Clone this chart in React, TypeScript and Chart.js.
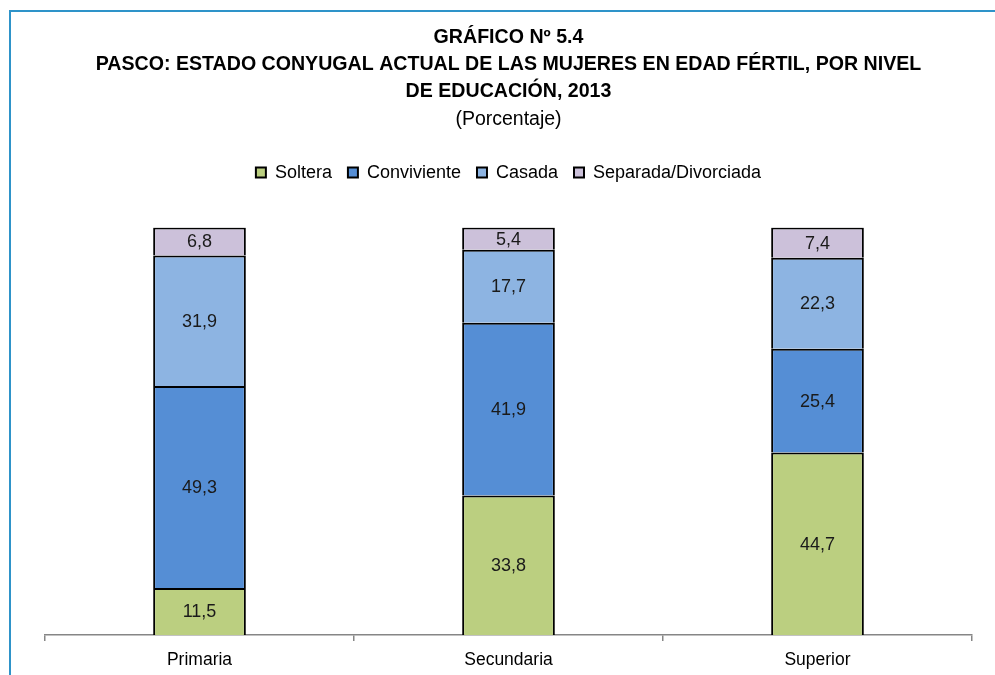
import React, { useEffect, useRef } from "react";
import { Chart, registerables } from "chart.js";

Chart.register(...registerables);

const categories = ["Primaria", "Secundaria", "Superior"];
const seriesNames = ["Soltera", "Conviviente", "Casada", "Separada/Divorciada"];
const soltera = [11.5, 33.8, 44.7];
const conviviente = [49.3, 41.9, 25.4];
const casada = [31.9, 17.7, 22.3];
const separada = [6.8, 5.4, 7.4];
const seriesColors = ["#BBCF80", "#558ED5", "#8DB4E2", "#CCC1DA"];
const titleLines = [
  "GRÁFICO Nº 5.4",
  "PASCO: ESTADO CONYUGAL ACTUAL DE LAS MUJERES EN EDAD FÉRTIL, POR NIVEL",
  "DE EDUCACIÓN, 2013",
];
const subtitleText = "(Porcentaje)";

const FONT = "'Liberation Sans Narrow', 'Arial Narrow', 'Liberation Sans', sans-serif";

export default function App() {
  const ref = useRef<HTMLCanvasElement | null>(null);

  useEffect(() => {
    if (!ref.current) return;
    const raw = [soltera, conviviente, casada, separada];
    const totals = categories.map((_, i) => raw.reduce((s, arr) => s + arr[i], 0));

    const labelPlugin = {
      id: "segLabels",
      afterDatasetsDraw(chart: any) {
        const ctx = chart.ctx;
        ctx.save();
        ctx.font = `18px ${FONT}`;
        ctx.fillStyle = "#1a1a1a";
        ctx.textAlign = "center";
        ctx.textBaseline = "middle";
        chart.data.datasets.forEach((ds: any, di: number) => {
          const meta = chart.getDatasetMeta(di);
          meta.data.forEach((bar: any, i: number) => {
            const v = ds.rawValues[i];
            const y = (bar.y + bar.base) / 2;
            ctx.fillText(v.toFixed(1).replace(".", ","), bar.x, y + 1);
          });
        });
        ctx.restore();
      },
    };

    const legendGap = {
      id: "legendGap",
      beforeInit(chart: any) {
        const orig = chart.legend.fit;
        chart.legend.fit = function () {
          orig.call(this);
          this.height += 36;
        };
      },
    };

    const chart = new Chart(ref.current, {
      type: "bar",
      data: {
        labels: categories,
        datasets: raw.map((arr, di) => ({
          label: seriesNames[di],
          data: arr.map((v, i) => (v / totals[i]) * 100),
          rawValues: arr,
          backgroundColor: seriesColors[di],
          borderColor: "#000000",
          borderWidth: 2,
          borderSkipped: "bottom",
          categoryPercentage: 1,
          barPercentage: 0.3,
        })) as any,
      },
      options: {
        animation: false,
        responsive: false,
        maintainAspectRatio: false,
        layout: { padding: { top: 24, left: 45, right: 23, bottom: 6 } },
        plugins: {
          title: {
            display: true,
            text: titleLines,
            color: "#000000",
            font: { family: FONT, size: 19.6, weight: "bold", lineHeight: 1.38 },
            padding: { top: 0, bottom: 3 },
          },
          subtitle: {
            display: true,
            text: subtitleText,
            color: "#000000",
            font: { family: FONT, size: 19.5, weight: "normal", lineHeight: 1.2 },
            padding: { top: 0, bottom: 16 },
          },
          legend: {
            display: true,
            position: "top",
            labels: {
              color: "#000000",
              font: { family: FONT, size: 18 },
              boxWidth: 10,
              boxHeight: 10,
              padding: 16,
            },
          },
          tooltip: { enabled: false },
        },
        scales: {
          x: {
            stacked: true,
            offset: true,
            grid: {
              display: true,
              offset: true,
              drawOnChartArea: false,
              drawTicks: true,
              tickLength: 6,
              color: "#868686",
              lineWidth: 1.5,
            },
            border: { display: true, color: "#868686", width: 1.5 },
            ticks: {
              color: "#000000",
              font: { family: FONT, size: 17.5 },
              padding: 9,
            },
          },
          y: {
            stacked: true,
            display: false,
            min: 0,
            max: 100,
          },
        },
      },
      plugins: [labelPlugin, legendGap],
    });
    return () => chart.destroy();
  }, []);

  return (
    <div style={{ position: "fixed", left: 0, top: 0, width: 995, height: 675, overflow: "hidden", background: "#ffffff" }}>
      <canvas ref={ref} width={995} height={686} style={{ position: "absolute", left: 0, top: 0, width: 995, height: 686 }} />
      <div
        style={{
          position: "absolute",
          left: 9,
          top: 10,
          width: 1100,
          height: 800,
          border: "2px solid #2E93C9",
          pointerEvents: "none",
        }}
      />
    </div>
  );
}
